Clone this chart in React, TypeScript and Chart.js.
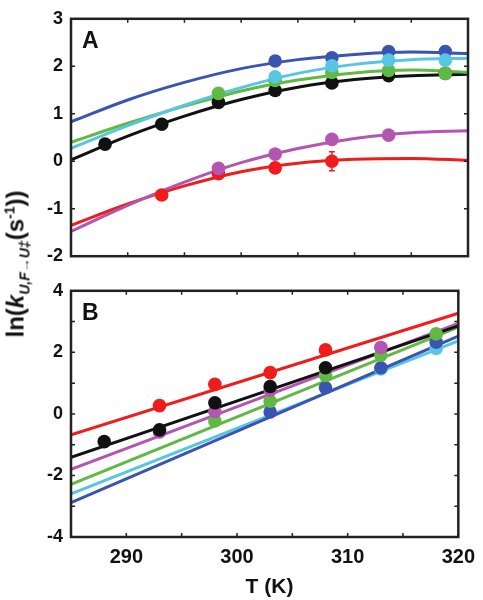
import React, { useEffect, useRef } from "react";
import { Chart, registerables } from "chart.js";

Chart.register(...registerables);

// ---------- data ----------
const POINT_T = [288, 293, 298, 303, 308, 313, 318];
const FIT_T_A = [285, 290, 295, 300, 305, 310, 315, 320];
const FIT_T_B = [285, 320];

// Panel A measured points
const A_black = [0.36, 0.78, 1.24, 1.49, 1.65, 1.8, 1.85];
const A_red = [null, -0.71, -0.26, -0.14, 0.0, null, null];
const A_redErr = [0, 0, 0, 0, 0.2, 0, 0];
const A_magenta = [null, null, -0.15, 0.15, 0.46, 0.55, null];
const A_green = [null, null, 1.43, 1.7, 1.87, 1.91, 1.85];
const A_cyan = [null, null, null, 1.78, 2.01, 2.13, 2.13];
const A_blue = [null, null, null, 2.11, 2.18, 2.31, 2.31];

// Panel A fitted curves
const A_fit_black = [0.03, 0.53, 0.95, 1.3, 1.56, 1.72, 1.8, 1.83];
const A_fit_red = [-1.35, -0.9, -0.52, -0.22, -0.04, 0.04, 0.06, 0.02];
const A_fit_magenta = [-1.48, -0.93, -0.44, -0.03, 0.27, 0.48, 0.6, 0.64];
const A_fit_green = [0.4, 0.8, 1.16, 1.48, 1.71, 1.86, 1.92, 1.87];
const A_fit_cyan = [0.27, 0.75, 1.18, 1.55, 1.85, 2.04, 2.14, 2.17];
const A_fit_blue = [0.83, 1.29, 1.66, 1.95, 2.14, 2.25, 2.3, 2.27];

// Panel B measured points
const B_black = [-0.9, -0.52, 0.36, 0.89, 1.5, null, null];
const B_red = [null, 0.27, 0.96, 1.34, 2.08, null, null];
const B_magenta = [null, -0.59, 0.08, 0.77, null, 2.16, null];
const B_green = [null, null, -0.23, 0.41, 1.25, 1.91, 2.6];
const B_cyan = [null, null, null, null, null, 1.46, 2.13];
const B_blue = [null, null, null, 0.06, 0.85, 1.5, 2.33];

// Panel B fitted lines
const B_fit_black = [-1.41, 2.86];
const B_fit_red = [-0.68, 3.27];
const B_fit_magenta = [-1.8, 2.94];
const B_fit_green = [-2.29, 2.82];
const B_fit_cyan = [-2.6, 2.37];
const B_fit_blue = [-2.88, 2.53];

const X_TICKS = [285, 290, 295, 300, 305, 310, 315, 320];

// ---------- styles ----------
const FONT = '"Liberation Sans", Arial, Helvetica, sans-serif';
const COLORS = {
  black: "#111111",
  red: "#f01c1c",
  magenta: "#b455b2",
  green: "#60b942",
  cyan: "#58c6e2",
  blue: "#3a54b2",
};

const W = 483;
const LEFT = 71;
const RIGHT_PAD = 15;

type Series = { key: keyof typeof COLORS; pts: (number | null)[]; fit: number[]; err?: number[] };

function pairs(xs: number[], ys: (number | null)[]) {
  const out: { x: number; y: number }[] = [];
  xs.forEach((x, i) => {
    const y = ys[i];
    if (y !== null && y !== undefined) out.push({ x, y });
  });
  return out;
}

// series listed bottom -> top; Chart.js draws lower index on top, so reverse
function buildDatasets(series: Series[], fitT: number[]) {
  const ds: any[] = [];
  const rev = [...series].reverse();
  rev.forEach((s) => {
    ds.push({
      type: "scatter",
      data: pairs(POINT_T, s.pts),
      backgroundColor: COLORS[s.key],
      borderColor: COLORS[s.key],
      pointRadius: 6.8,
      pointBorderWidth: 0,
      showLine: false,
      order: 0,
    });
  });
  rev.forEach((s) => {
    ds.push({
      type: "line",
      data: pairs(fitT, s.fit),
      borderColor: COLORS[s.key],
      borderWidth: 3,
      pointRadius: 0,
      fill: false,
      tension: 0.4,
      cubicInterpolationMode: "monotone",
      order: 1,
    });
  });
  return ds;
}

function framePlugin(letter: string, series: Series[]) {
  return {
    id: "frame" + letter,
    afterDatasetsDraw(chart: any) {
      const ctx = chart.ctx;
      const x = chart.scales.x;
      const y = chart.scales.y;
      ctx.save();
      series.forEach((s) => {
        if (!s.err) return;
        ctx.strokeStyle = COLORS[s.key];
        ctx.lineWidth = 1.5;
        POINT_T.forEach((t, i) => {
          const v = s.pts[i];
          const e = s.err![i];
          if (v === null || !e) return;
          const px = x.getPixelForValue(t);
          const y1 = y.getPixelForValue(v + e);
          const y2 = y.getPixelForValue(v - e);
          ctx.beginPath();
          ctx.moveTo(px, y1);
          ctx.lineTo(px, y2);
          ctx.moveTo(px - 3, y1);
          ctx.lineTo(px + 3, y1);
          ctx.moveTo(px - 3, y2);
          ctx.lineTo(px + 3, y2);
          ctx.stroke();
        });
      });
      ctx.restore();
    },
    afterDraw(chart: any) {
      const ctx = chart.ctx;
      const a = chart.chartArea;
      const x = chart.scales.x;
      const y = chart.scales.y;
      ctx.save();
      ctx.strokeStyle = "#222";
      ctx.lineWidth = 2.5;
      ctx.strokeRect(a.left, a.top, a.right - a.left, a.bottom - a.top);
      ctx.lineWidth = 1.5;
      ctx.beginPath();
      x.ticks.forEach((t: any) => {
        const px = x.getPixelForValue(t.value);
        ctx.moveTo(px, a.bottom);
        ctx.lineTo(px, a.bottom - 4);
        ctx.moveTo(px, a.top);
        ctx.lineTo(px, a.top + 4);
      });
      y.ticks.forEach((t: any) => {
        const py = y.getPixelForValue(t.value);
        ctx.moveTo(a.left, py);
        ctx.lineTo(a.left + 4, py);
        ctx.moveTo(a.right, py);
        ctx.lineTo(a.right - 4, py);
      });
      ctx.stroke();
      ctx.fillStyle = "#111";
      ctx.font = `bold 23px ${FONT}`;
      ctx.textBaseline = "alphabetic";
      ctx.textAlign = "left";
      ctx.fillText(letter, a.left + 11, a.top + 29);
      ctx.restore();
    },
  };
}

function makeConfig(
  letter: string,
  series: Series[],
  fitT: number[],
  yMin: number,
  yMax: number,
  showEvery: number,
  height: number,
  areaTop: number,
  areaBottom: number,
  showXLabels: boolean
) {
  return {
    type: "scatter",
    data: { datasets: buildDatasets(series, fitT) },
    plugins: [framePlugin(letter, series)],
    options: {
      animation: false,
      responsive: false,
      devicePixelRatio: 1,
      layout: { autoPadding: false, padding: { top: areaTop, right: RIGHT_PAD, left: 0, bottom: 0 } },
      plugins: { legend: { display: false }, tooltip: { enabled: false }, title: { display: false } },
      scales: {
        x: {
          type: "linear",
          min: 285,
          max: 320,
          afterBuildTicks: (s: any) => {
            s.ticks = X_TICKS.map((v) => ({ value: v }));
          },
          grid: { display: true, drawOnChartArea: false, drawTicks: false, color: "rgba(0,0,0,0)" },
          border: { display: false },
          ticks: {
            display: showXLabels,
            autoSkip: false,
            maxRotation: 0,
            padding: 8,
            color: "#111",
            font: { family: FONT, weight: "bold", size: 20 },
            callback: (v: any) => (Number(v) % 10 === 0 ? String(v) : ""),
          },
          afterFit: (s: any) => {
            s.height = height - areaBottom;
          },
        },
        y: {
          type: "linear",
          min: yMin,
          max: yMax,
          ticks: {
            stepSize: 1,
            padding: 8,
            color: "#111",
            font: { family: FONT, weight: "bold", size: 18 },
            callback: (v: any) => (Math.round(Number(v)) % showEvery === 0 ? String(v) : ""),
          },
          grid: { display: true, drawOnChartArea: false, drawTicks: false, color: "rgba(0,0,0,0)" },
          border: { display: false },
          afterFit: (s: any) => {
            s.width = LEFT;
          },
        },
      },
    },
  };
}

// listed bottom -> top drawing order
const SERIES_A: Series[] = [
  { key: "black", pts: A_black, fit: A_fit_black },
  { key: "red", pts: A_red, fit: A_fit_red, err: A_redErr },
  { key: "magenta", pts: A_magenta, fit: A_fit_magenta },
  { key: "green", pts: A_green, fit: A_fit_green },
  { key: "blue", pts: A_blue, fit: A_fit_blue },
  { key: "cyan", pts: A_cyan, fit: A_fit_cyan },
];

const SERIES_B: Series[] = [
  { key: "cyan", pts: B_cyan, fit: B_fit_cyan },
  { key: "blue", pts: B_blue, fit: B_fit_blue },
  { key: "green", pts: B_green, fit: B_fit_green },
  { key: "magenta", pts: B_magenta, fit: B_fit_magenta },
  { key: "black", pts: B_black, fit: B_fit_black },
  { key: "red", pts: B_red, fit: B_fit_red },
];

const HA = 275;
const TOP_B = 272;
const HB = 328;

export default function App() {
  const refA = useRef<HTMLCanvasElement>(null);
  const refB = useRef<HTMLCanvasElement>(null);

  useEffect(() => {
    const cA = new Chart(
      refA.current!,
      makeConfig("A", SERIES_A, FIT_T_A, -2, 3, 1, HA, 9, 267, false) as any
    );
    const cB = new Chart(
      refB.current!,
      makeConfig("B", SERIES_B, FIT_T_B, -4, 4, 2, HB, 8, 537 - TOP_B, true) as any
    );
    return () => {
      cA.destroy();
      cB.destroy();
    };
  }, []);

  return (
    <div style={{ position: "absolute", left: 0, top: 0, width: W, height: 600, background: "#fff", fontFamily: FONT }}>
      <canvas ref={refA} width={W} height={HA} style={{ position: "absolute", left: 0, top: 0, width: W, height: HA }} />
      <canvas ref={refB} width={W} height={HB} style={{ position: "absolute", left: 0, top: TOP_B, width: W, height: HB }} />
      <div
        style={{
          position: "absolute",
          left: 17,
          top: 264,
          transform: "translate(-50%, -50%) rotate(-90deg)",
          whiteSpace: "nowrap",
          fontWeight: "bold",
          fontSize: 24,
          color: "#111",
          lineHeight: 1,
        }}
      >
        ln(<i>k</i>
        <sub style={{ fontSize: 14, fontStyle: "italic", verticalAlign: "-6px" }}>U,F→U‡</sub>
        (s<sup style={{ fontSize: 14, verticalAlign: "9px" }}>-1</sup>))
      </div>
      <div
        style={{
          position: "absolute",
          left: (LEFT + W - RIGHT_PAD) / 2,
          top: 585,
          transform: "translate(-50%, -50%)",
          whiteSpace: "nowrap",
          fontWeight: "bold",
          fontSize: 21,
          color: "#111",
          lineHeight: 1,
        }}
      >
        T (K)
      </div>
    </div>
  );
}
